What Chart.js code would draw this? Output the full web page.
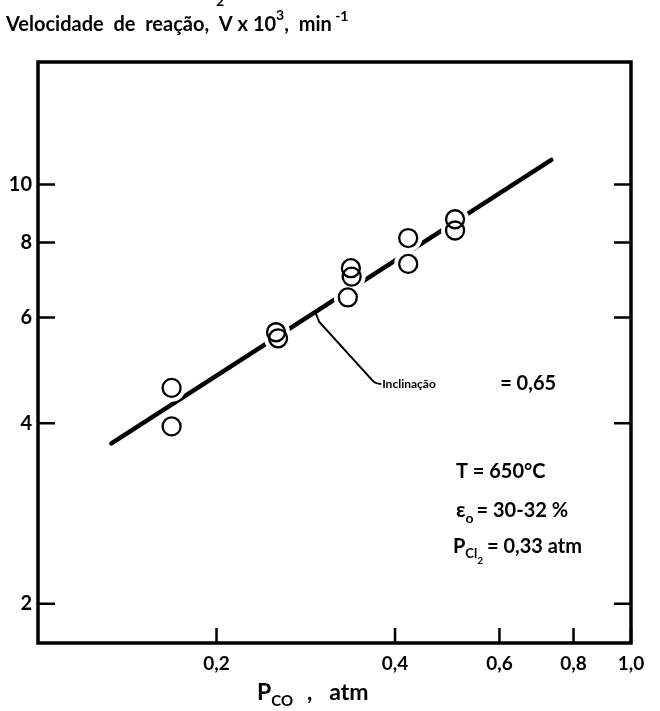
<!DOCTYPE html>
<html><head><meta charset="utf-8">
<script src="https://cdn.jsdelivr.net/npm/chart.js@4.4.0/dist/chart.umd.min.js"></script>
<style>html,body{margin:0;padding:0;background:#fff;}canvas{display:block;}</style>
</head><body>
<canvas id="c" width="660" height="711"></canvas>
<script>
// ---- data ----
const pressureCO = [0.168, 0.168, 0.252, 0.254, 0.337, 0.338, 0.333, 0.421, 0.421, 0.505, 0.505];
const rateV      = [4.58, 3.95, 5.67, 5.54, 7.25, 7.02, 6.48, 8.14, 7.37, 8.75, 8.38];
const fitX = [0.133, 0.734];
const fitY = [3.70, 10.99];
const xTicks = [0.2, 0.4, 0.6, 0.8, 1.0];
const xTickLabels = ['0,2', '0,4', '0,6', '0,8', '1,0'];
const yTicks = [2, 4, 6, 8, 10];
const yTickLabels = ['2', '4', '6', '8', '10'];
const slopeText = 'Inclinação';
const slopeValueText = '= 0,65';
const leaderFrom = 0.2935;          // P_CO where the leader touches the fitted line
const leaderKnee = [0.366, 4.72];   // leader bend (P_CO, V)

const FONT = 'Lato, "Open Sans", sans-serif';

const pts = pressureCO.map((x, i) => ({x, y: rateV[i]}));
const fit = fitX.map((x, i) => ({x, y: fitY[i]}));

function drawRich(ctx, x, y, segs) {
  let cx = x;
  for (const s of segs) {
    ctx.font = (s.w || 'bold') + ' ' + s.size + 'px ' + FONT;
    ctx.textBaseline = 'alphabetic';
    ctx.textAlign = 'left';
    ctx.fillText(s.t, cx, y + (s.dy || 0));
    cx += ctx.measureText(s.t).width + (s.gap || 0);
  }
}

const deco = {
  id: 'deco',
  afterDraw(chart) {
    const {ctx, chartArea: a, scales: {x, y}} = chart;
    ctx.save();
    ctx.strokeStyle = '#000'; ctx.fillStyle = '#000';
    // frame
    ctx.lineWidth = 3.5;
    ctx.strokeRect(a.left, a.top, a.right - a.left, a.bottom - a.top);
    // ticks (inward)
    ctx.lineWidth = 2.5;
    ctx.beginPath();
    for (const v of yTicks) {
      const py = y.getPixelForValue(v);
      ctx.moveTo(a.left, py); ctx.lineTo(a.left + 17, py);
      ctx.moveTo(a.right, py); ctx.lineTo(a.right - 17, py);
    }
    for (const v of xTicks) {
      const px = x.getPixelForValue(v);
      ctx.moveTo(px, a.bottom); ctx.lineTo(px, a.bottom - 15);
    }
    ctx.stroke();
    // leader line for slope annotation
    const lf = Math.log10(leaderFrom);
    const t = (lf - Math.log10(fitX[0])) / (Math.log10(fitX[1]) - Math.log10(fitX[0]));
    const ly = Math.pow(10, Math.log10(fitY[0]) + t * (Math.log10(fitY[1]) - Math.log10(fitY[0])));
    const p0x = x.getPixelForValue(leaderFrom), p0y = y.getPixelForValue(ly);
    const kx = x.getPixelForValue(leaderKnee[0]), ky = y.getPixelForValue(leaderKnee[1]);
    ctx.lineWidth = 2;
    ctx.beginPath();
    ctx.moveTo(p0x, p0y);
    ctx.lineTo(p0x + 4, p0y + 10);
    ctx.lineTo(kx, ky);
    ctx.quadraticCurveTo(kx + 3, ky + 4, kx + 9, ky + 4);
    ctx.stroke();
    // slope annotation text
    drawRich(ctx, kx + 10, ky + 8, [{t: slopeText, size: 12}]);
    drawRich(ctx, kx + 128, ky + 10, [{t: slopeValueText, size: 20}]);
    // condition block
    const bx = x.getPixelForValue(0.5067);
    drawRich(ctx, bx, y.getPixelForValue(3.343) + 8, [{t: 'T = 650°C', size: 20}]);
    drawRich(ctx, bx, y.getPixelForValue(2.88) + 8, [
      {t: 'ε', size: 21}, {t: 'o', size: 14, dy: 6, gap: 3}, {t: '= 30-32 %', size: 20}]);
    drawRich(ctx, bx - 3, y.getPixelForValue(2.508) + 8, [
      {t: 'P', size: 20}, {t: 'Cl', size: 13, dy: 5}, {t: '2', size: 10, dy: 11, gap: 4}, {t: '= 0,33 atm', size: 20}]);
    // title
    drawRich(ctx, 6, 31, [
      {t: 'Velocidade  de  reação,  V x 10', size: 20}, {t: '3', size: 14, dy: -11},
      {t: ',  min', size: 20}, {t: ' -1', size: 14, dy: -10}]);
    ctx.font = 'bold 14px ' + FONT;
    ctx.fillText('2', 216, 6);
    // x-axis title
    drawRich(ctx, 257, 700, [
      {t: 'P', size: 23}, {t: 'CO', size: 15, dy: 6, gap: 14}, {t: ',   atm', size: 23}]);
    ctx.restore();
  }
};

new Chart(document.getElementById('c'), {
  type: 'scatter',
  data: {
    datasets: [
      {label: 'ajuste', data: fit, showLine: true, borderColor: '#000', borderWidth: 4.5,
       pointRadius: 0, order: 3, borderCapStyle: 'round'},
      {label: 'halo', data: pts, pointRadius: 14, pointBackgroundColor: '#fff',
       pointBorderWidth: 0, pointBorderColor: '#fff', order: 2},
      {label: 'V', data: pts, pointRadius: 9, pointBackgroundColor: 'rgba(0,0,0,0)',
       pointBorderColor: '#000', pointBorderWidth: 2.3, order: 1}
    ]
  },
  options: {
    responsive: false, animation: false, devicePixelRatio: 1,
    layout: {padding: {top: 62, right: 29, left: 0, bottom: 0}},
    plugins: {legend: {display: false}, tooltip: {enabled: false}},
    scales: {
      x: {
        type: 'logarithmic', min: 0.1, max: 1.0,
        afterBuildTicks: s => { s.ticks = xTicks.map(v => ({value: v})); },
        afterFit: s => { s.height = 68; },
        grid: {display: false, drawTicks: false}, border: {display: false},
        ticks: {autoSkip: false, maxRotation: 0, padding: 9, color: '#000',
          font: {family: FONT, size: 19, weight: 'bold'},
          callback: v => xTickLabels[xTicks.indexOf(v)]}
      },
      y: {
        type: 'logarithmic', min: 1.72, max: 16,
        afterBuildTicks: s => { s.ticks = yTicks.map(v => ({value: v})); },
        afterFit: s => { s.width = 38; },
        grid: {display: false, drawTicks: false}, border: {display: false},
        ticks: {autoSkip: false, padding: 6, color: '#000',
          font: {family: FONT, size: 20, weight: 'bold'},
          callback: v => yTickLabels[yTicks.indexOf(v)]}
      }
    }
  },
  plugins: [deco]
});
</script>
</body></html>
